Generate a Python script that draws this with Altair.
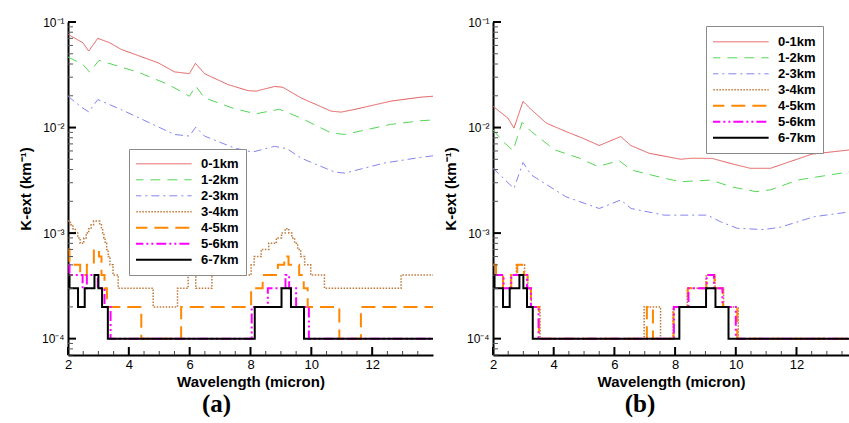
import altair as alt
import pandas as pd

SERIES = ["0-1km", "1-2km", "2-3km", "3-4km", "4-5km", "5-6km", "6-7km"]
COLORS = ["#e35b5b", "#55d655", "#8484f2", "#c07838", "#ff8800", "#ff00ff", "#000000"]
DASHES = [[1, 0], [10, 7], [8, 4, 2, 4], [1.5, 1.5], [14, 7], [10, 3, 2, 3, 2, 3], [1, 0]]
WIDTHS = [1, 1, 1, 1.5, 2, 2, 2]
STEP_SERIES = ["3-4km", "4-5km", "5-6km", "6-7km"]

# ---------------- panel (a) ----------------
A_RED_W = [2.0, 2.49, 2.68, 2.98, 3.37, 3.75, 4.96, 5.5, 5.99, 6.19, 6.49, 7.25, 7.91, 8.18, 8.79, 9.06, 9.66, 10.65, 10.98, 11.4, 12.62, 13.6, 14.0]
A_RED_V = [0.0764, 0.0636, 0.0531, 0.0700, 0.0636, 0.055, 0.0411, 0.0337, 0.0324, 0.0406, 0.0324, 0.0256, 0.0224, 0.0221, 0.0245, 0.0241, 0.0191, 0.0143, 0.0140, 0.0148, 0.0178, 0.0194, 0.0198]
A_GRN_W = [2.0, 2.49, 2.71, 3.02, 4.3, 5.3, 5.99, 6.2, 6.49, 7.47, 8.17, 8.95, 9.66, 10.65, 11.1, 12.6, 13.6, 14.0]
A_GRN_V = [0.0466, 0.0396, 0.0335, 0.0433, 0.0335, 0.0256, 0.0198, 0.0247, 0.0191, 0.0151, 0.0135, 0.0149, 0.0123, 0.0089, 0.0086, 0.0107, 0.0116, 0.0118]
A_BLU_W = [2.0, 2.44, 2.68, 2.98, 3.75, 5.5, 5.99, 6.2, 6.49, 7.47, 8.07, 8.79, 9.2, 9.66, 10.76, 11.1, 12.4, 13.6, 14.0]
A_BLU_V = [0.0198, 0.0156, 0.0141, 0.0184, 0.0148, 0.0086, 0.0083, 0.0101, 0.0083, 0.0064, 0.00586, 0.00664, 0.0063, 0.00514, 0.00379, 0.0037, 0.00461, 0.00522, 0.0054]
A_BRN_W = [2.0, 2.08, 2.16, 2.24, 2.32, 2.4, 2.52, 2.6, 2.68, 2.76, 2.84, 3.04, 3.1, 3.14, 3.18, 3.22, 3.27, 3.32, 3.38, 3.48, 3.65, 4.8, 5.6, 5.95, 6.2, 6.73, 8.02, 8.12, 8.35, 8.6, 8.85, 9.02, 9.14, 9.26, 9.36, 9.45, 9.55, 9.65, 9.78, 9.98, 10.43, 12.95, 14.0]
A_BRN_V = [13, 12, 11, 10, 9, 8, 9, 10, 11, 12, 13, 12, 11, 10, 9, 8, 7, 6, 5, 4, 3, 2, 3, 4, 3, 4, 5, 6, 7, 8, 9, 10, 11, 10, 9, 8, 7, 6, 5, 4, 3, 4, 4]
A_ORG_W = [2.0, 2.05, 2.4, 2.62, 2.85, 3.02, 3.1, 3.2, 3.28, 4.41, 5.72, 8.02, 8.4, 8.9, 9.11, 9.25, 9.6, 9.75, 9.88, 10.92, 11.63, 14.0]
A_ORG_V = [7, 5, 4, 5, 7, 6, 4, 3, 2, 1, 2, 3, 4, 5, 6, 5, 4, 3, 2, 1, 2, 2]
A_MAG_W = [2.0, 2.05, 2.48, 2.62, 2.98, 3.2, 3.4, 8.04, 8.57, 9.15, 9.27, 9.5, 9.92, 14.0]
A_MAG_V = [5, 4, 3, 4, 3, 2, 1, 2, 3, 4, 3, 2, 1, 1]
BLK_W = [2.0, 2.05, 2.33, 2.55, 2.87, 3.0, 3.12, 3.31, 8.14, 9.02, 9.33, 9.76, 14.0]
BLK_V = [4, 3, 2, 3, 4, 3, 2, 1, 2, 3, 2, 1, 1]

# ---------------- panel (b) ----------------
B_RED_W = [2.0, 2.49, 2.69, 2.99, 3.26, 3.76, 4.4, 4.95, 5.5, 6.21, 6.54, 7.14, 8.18, 8.56, 9.22, 9.88, 10.48, 11.14, 11.63, 12.51, 13.77, 14.0]
B_RED_V = [0.0159, 0.0123, 0.00988, 0.0177, 0.0148, 0.0110, 0.00918, 0.00794, 0.00676, 0.00822, 0.00676, 0.00571, 0.00501, 0.00512, 0.0051, 0.00453, 0.00411, 0.00411, 0.00459, 0.0056, 0.00615, 0.0062]
B_GRN_W = [2.0, 2.33, 2.66, 2.96, 3.26, 4.03, 4.85, 5.45, 6.16, 6.55, 7.64, 8.19, 9.18, 9.84, 10.66, 11.15, 12.03, 13.77, 14.0]
B_GRN_V = [0.00953, 0.00738, 0.00605, 0.0112, 0.00919, 0.00615, 0.00513, 0.00427, 0.00486, 0.00397, 0.00331, 0.00307, 0.00318, 0.00275, 0.00247, 0.00257, 0.00318, 0.00382, 0.0039]
B_BLU_W = [2.0, 2.69, 2.99, 3.26, 4.4, 5.5, 6.21, 6.55, 7.64, 9.07, 9.5, 10.05, 10.93, 11.48, 12.58, 13.77, 14.0]
B_BLU_V = [0.00411, 0.00265, 0.00466, 0.00356, 0.00221, 0.00171, 0.00206, 0.00171, 0.00148, 0.00148, 0.00128, 0.00111, 0.00108, 0.00114, 0.00143, 0.00159, 0.00162]
B_BRN_W = [2.0, 2.1, 2.33, 2.58, 2.77, 3.04, 3.15, 3.26, 3.55, 6.98, 7.52, 7.93, 8.4, 9.02, 9.32, 9.6, 10.08, 14.0]
B_BRN_V = [5, 4, 3, 4, 5, 4, 3, 2, 1, 2, 1, 2, 3, 4, 3, 2, 1, 1]
B_ORG_W = [2.0, 2.1, 2.33, 2.6, 2.8, 3.02, 3.14, 3.25, 3.52, 7.07, 7.27, 7.95, 8.42, 9.03, 9.3, 9.58, 10.05, 14.0]
B_ORG_V = [5, 4, 3, 4, 5, 4, 3, 2, 1, 2, 1, 2, 3, 4, 3, 2, 1, 1]
B_MAG_W = [2.0, 2.35, 2.6, 3.12, 3.25, 3.5, 7.96, 8.44, 9.04, 9.28, 9.56, 10.0, 14.0]
B_MAG_V = [4, 3, 4, 3, 2, 1, 2, 3, 4, 3, 2, 1, 1]

STEP_UNIT = 1e-4  # step series values are in units of 1e-4 km^-1

X_LABELS = [2, 4, 6, 8, 10, 12]
X_MINOR = [2.5, 3, 3.5, 4.5, 5, 5.5, 6.5, 7, 7.5, 8.5, 9, 9.5, 10.5, 11, 11.5, 12.5, 13, 13.5]
Y_MAJOR = [1e-4, 1e-3, 1e-2, 1e-1]
Y_MINOR = [m * 10.0 ** e for e in (-5, -4, -3, -2) for m in range(2, 10)]

YMIN, YMAX = 7e-5, 0.1
PLOT_H = 333


def frame(series_ws_vs, step_names):
    rows = []
    for name, ws, vs in series_ws_vs:
        mult = STEP_UNIT if name in step_names else 1.0
        for w, v in zip(ws, vs):
            rows.append({"series": name, "w": w, "v": v * mult})
    return pd.DataFrame(rows)


DF_A = frame([
    ("0-1km", A_RED_W, A_RED_V), ("1-2km", A_GRN_W, A_GRN_V), ("2-3km", A_BLU_W, A_BLU_V),
    ("3-4km", A_BRN_W, A_BRN_V), ("4-5km", A_ORG_W, A_ORG_V), ("5-6km", A_MAG_W, A_MAG_V),
    ("6-7km", BLK_W, BLK_V)], STEP_SERIES)
DF_B = frame([
    ("0-1km", B_RED_W, B_RED_V), ("1-2km", B_GRN_W, B_GRN_V), ("2-3km", B_BLU_W, B_BLU_V),
    ("3-4km", B_BRN_W, B_BRN_V), ("4-5km", B_ORG_W, B_ORG_V), ("5-6km", B_MAG_W, B_MAG_V),
    ("6-7km", BLK_W, BLK_V)], STEP_SERIES)

FONT = "Liberation Sans"
LABEL_EXPR = "'10' + ['', '\u207b\u00b9', '\u207b\u00b2', '\u207b\u00b3', '\u207b\u2074'][round(-log(datum.value)/LN10)]"


def panel(df, xmax, width, lx, ly, caption, cap_dx, pad_title):
    xscale = alt.Scale(domain=[2, xmax], nice=False, zero=False)
    yscale = alt.Scale(type="log", domain=[YMIN, YMAX], nice=False)
    xaxis = alt.Axis(values=X_LABELS, ticks=False, grid=False, domainColor="black", domainWidth=2,
                     labelFont=FONT, labelFontSize=13, labelColor="black", labelPadding=3, labelFlush=False,
                     title="Wavelength (micron)", titleFont=FONT, titleFontSize=15, titleFontWeight="bold",
                     titleColor="black", titlePadding=3)
    yaxis = alt.Axis(values=Y_MAJOR, ticks=False, grid=False, domainColor="black", domainWidth=2,
                     labelFont=FONT, labelFontSize=12, labelColor="black", labelPadding=4,
                     labelExpr=LABEL_EXPR, title="K-ext (km\u207b\u00b9)", titleFont=FONT,
                     titleFontSize=15, titleFontWeight="bold", titleColor="black", titlePadding=8)
    legend_kw = dict(orient="none", legendX=lx, legendY=ly, symbolType="stroke",
                     symbolSize=3400, clipHeight=15.6, rowPadding=0, labelFont=FONT, labelFontSize=13,
                     labelFontWeight="bold", labelColor="black", padding=7, strokeColor="#8a8a8a",
                     fillColor="white", labelOffset=8, symbolOffset=-4)
    if pad_title > 0:
        legend_kw.update(title="\u00a0" * pad_title, titleFontSize=1, titlePadding=0, titleLimit=400)
    else:
        legend_kw.update(title=None)
    legend = alt.Legend(**legend_kw)
    enc = dict(
        x=alt.X("w:Q", scale=xscale, axis=xaxis),
        y=alt.Y("v:Q", scale=yscale, axis=yaxis),
        color=alt.Color("series:N", scale=alt.Scale(type="ordinal", domain=SERIES, range=COLORS), legend=legend),
        strokeDash=alt.StrokeDash("series:N", scale=alt.Scale(type="ordinal", domain=SERIES, range=DASHES), legend=legend),
        strokeWidth=alt.StrokeWidth("series:N", scale=alt.Scale(type="ordinal", domain=SERIES, range=WIDTHS), legend=legend),
    )
    layers = []
    for name in SERIES:
        interp = "step-after" if name in STEP_SERIES else "linear"
        layers.append(
            alt.Chart(df).transform_filter(alt.datum.series == name)
            .mark_line(interpolate=interp, clip=True, strokeCap="butt")
            .encode(**enc)
        )
    xmaj = pd.DataFrame({"t": [t for t in X_LABELS if t <= xmax]})
    xmin = pd.DataFrame({"t": [t for t in X_MINOR if t <= xmax]})
    ymaj = pd.DataFrame({"t": Y_MAJOR})
    ymin = pd.DataFrame({"t": [t for t in Y_MINOR if YMIN <= t <= YMAX]})
    xt = alt.X("t:Q", scale=xscale, axis=xaxis)
    yt = alt.Y("t:Q", scale=yscale, axis=yaxis)
    layers.append(alt.Chart(xmaj).mark_rule(color="black", strokeWidth=2).encode(
        x=xt, y=alt.value(PLOT_H), y2=alt.value(PLOT_H - 8)))
    layers.append(alt.Chart(xmin).mark_rule(color="#444444", strokeWidth=1).encode(
        x=xt, y=alt.value(PLOT_H), y2=alt.value(PLOT_H - 4)))
    layers.append(alt.Chart(ymaj).mark_rule(color="black", strokeWidth=2).encode(
        y=yt, x=alt.value(0), x2=alt.value(8)))
    layers.append(alt.Chart(ymin).mark_rule(color="#555555", strokeWidth=1).encode(
        y=yt, x=alt.value(0), x2=alt.value(5)))
    return alt.layer(*layers).properties(
        width=width, height=PLOT_H,
        title=alt.TitleParams(caption, orient="bottom", font="Liberation Serif", fontSize=25,
                              fontWeight="bold", color="black", offset=3, anchor="middle", dx=cap_dx),
    )


pa = panel(DF_A, 14.0, 365, 61, 127, "(a)", -34, 0)
pb = panel(DF_B, 13.73, 356, 213, 4, "(b)", -31, 500)

chart = (
    alt.hconcat(pa, pb, spacing=60, bounds="flush")
    .resolve_scale(color="independent", strokeDash="independent", strokeWidth="independent",
                   x="independent", y="independent")
    .resolve_legend(color="independent", strokeDash="independent", strokeWidth="independent")
    .configure_view(stroke=None)
    .properties(padding={"left": 18, "top": 16, "right": 0, "bottom": 0}, background="white")
)

chart.save("out.html", embed_options={"renderer": "svg", "actions": False})
